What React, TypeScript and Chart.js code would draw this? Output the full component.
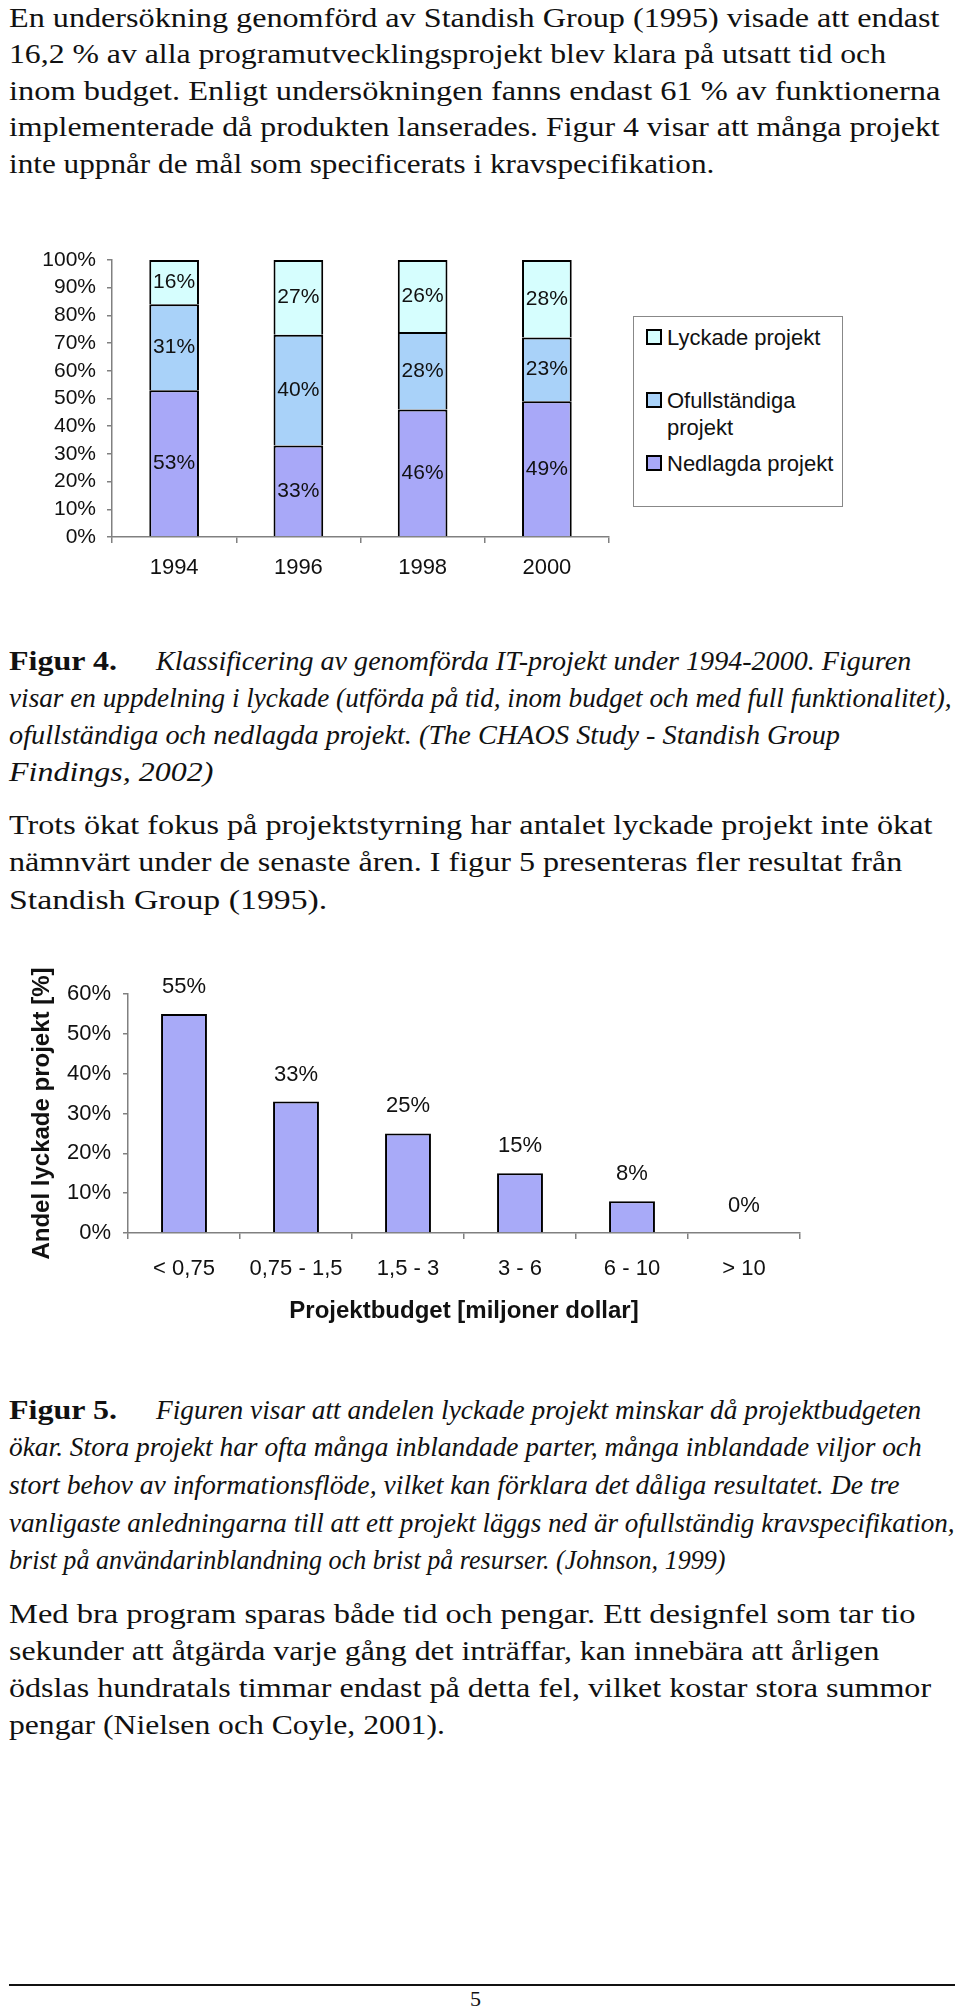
import React, { useEffect, useLayoutEffect, useRef } from "react";
import { Chart, registerables } from "chart.js";
Chart.register(...registerables);

// ---------- Figure 4 data ----------
const years = ["1994", "1996", "1998", "2000"];
const nedlagda = [53, 33, 46, 49];
const ofullstandiga = [31, 40, 28, 23];
const lyckade = [16, 27, 26, 28];
const stackSeries = [nedlagda, ofullstandiga, lyckade];
const stackLabels = ["Nedlagda projekt", "Ofullständiga projekt", "Lyckade projekt"];
const stackColors = ["#A8A8F8", "#A9D2F9", "#D6FEFE"];

// ---------- Figure 5 data ----------
const budgetCats = ["< 0,75", "0,75 - 1,5", "1,5 - 3", "3 - 6", "6 - 10", "> 10"];
const successShare = [55, 33, 25, 15, 8, 0];
const barColor2 = "#A8AAF8";
const yTitle2 = "Andel lyckade projekt [%]";
const xTitle2 = "Projektbudget [miljoner dollar]";

// ---------- Text ----------
const para1 = [
  "En undersökning genomförd av Standish Group (1995) visade att endast",
  "16,2 % av alla programutvecklingsprojekt blev klara på utsatt tid och",
  "inom budget. Enligt undersökningen fanns endast 61 % av funktionerna",
  "implementerade då produkten lanserades. Figur 4 visar att många projekt",
  "inte uppnår de mål som specificerats i kravspecifikation.",
];
const cap4Head = "Figur 4.";
const cap4 = [
  "Klassificering av genomförda IT-projekt under 1994-2000. Figuren",
  "visar en uppdelning i lyckade (utförda på tid, inom budget och med full funktionalitet),",
  "ofullständiga och nedlagda projekt. (The CHAOS Study - Standish Group",
  "Findings, 2002)",
];
const para2 = [
  "Trots ökat fokus på projektstyrning har antalet lyckade projekt inte ökat",
  "nämnvärt under de senaste åren. I figur 5 presenteras fler resultat från",
  "Standish Group (1995).",
];
const cap5Head = "Figur 5.";
const cap5 = [
  "Figuren visar att andelen lyckade projekt minskar då projektbudgeten",
  "ökar. Stora projekt har ofta många inblandade parter, många inblandade viljor och",
  "stort behov av informationsflöde, vilket kan förklara det dåliga resultatet. De tre",
  "vanligaste anledningarna till att ett projekt läggs ned är ofullständig kravspecifikation,",
  "brist på användarinblandning och brist på resurser. (Johnson, 1999)",
];
const para3 = [
  "Med bra program sparas både tid och pengar. Ett designfel som tar tio",
  "sekunder att åtgärda varje gång det inträffar, kan innebära att årligen",
  "ödslas hundratals timmar endast på detta fel, vilket kostar stora summor",
  "pengar (Nielsen och Coyle, 2001).",
];
const pageNumber = "5";

const SANS = '"Liberation Sans", Arial, sans-serif';
const SERIF = '"Liberation Serif", "Times New Roman", serif';
const TEXT_SIZE = 27;

function textStyle(x: number, y: number, italic?: boolean, bold?: boolean): React.CSSProperties {
  return {
    position: "absolute",
    left: x,
    top: y - TEXT_SIZE / 2,
    fontSize: TEXT_SIZE,
    lineHeight: `${TEXT_SIZE}px`,
    whiteSpace: "pre",
    transformOrigin: "0 0",
    fontFamily: SERIF,
    fontStyle: italic ? "italic" : "normal",
    fontWeight: bold ? "bold" : "normal",
    color: "#111",
  };
}

function onFonts(fn: () => void) {
  fn();
  const f: any = (document as any).fonts;
  if (f && f.ready) f.ready.then(fn);
}

function FitText(props: { x: number; y: number; right: number; italic?: boolean; bold?: boolean; children: string }) {
  const { x, y, right, italic, bold, children } = props;
  const ref = useRef<HTMLSpanElement>(null);
  useLayoutEffect(() => {
    onFonts(() => {
      const el = ref.current;
      if (!el) return;
      const nat = el.offsetWidth;
      if (nat > 0) el.style.transform = `scaleX(${(right - x) / nat})`;
    });
  }, [x, right, children]);
  return (
    <span ref={ref} style={textStyle(x, y, italic, bold)}>
      {children}
    </span>
  );
}

// Each line is horizontally fitted to its right edge in the reference layout.
function Paragraph(props: { lines: string[]; y0: number; gap: number; rights: number[]; italic?: boolean; firstX?: number }) {
  const { lines, y0, gap, rights, italic, firstX } = props;
  const refs = useRef<(HTMLSpanElement | null)[]>([]);
  const xOf = (i: number) => (i === 0 && firstX ? firstX : 9);
  useLayoutEffect(() => {
    onFonts(() => {
      refs.current.forEach((el, i) => {
        if (!el || el.offsetWidth === 0) return;
        el.style.transform = `scaleX(${(rights[i] - xOf(i)) / el.offsetWidth})`;
      });
    });
  }, []);
  return (
    <>
      {lines.map((t, i) => (
        <span key={i} ref={(el) => { refs.current[i] = el; }} style={textStyle(xOf(i), y0 + i * gap, italic)}>
          {t}
        </span>
      ))}
    </>
  );
}

const segmentLabelPlugin = {
  id: "segLabels",
  afterDatasetsDraw(chart: any) {
    const ctx = chart.ctx;
    ctx.save();
    ctx.font = `21px ${SANS}`;
    ctx.fillStyle = "#111";
    ctx.textAlign = "center";
    ctx.textBaseline = "middle";
    chart.data.datasets.forEach((ds: any, di: number) => {
      const meta = chart.getDatasetMeta(di);
      meta.data.forEach((el: any, i: number) => {
        ctx.fillText(`${ds.data[i]}%`, el.x, (el.y + el.base) / 2);
      });
    });
    ctx.restore();
  },
};

const topLabelPlugin = {
  id: "topLabels",
  afterDatasetsDraw(chart: any) {
    const ctx = chart.ctx;
    ctx.save();
    ctx.font = `22px ${SANS}`;
    ctx.fillStyle = "#111";
    ctx.textAlign = "center";
    ctx.textBaseline = "middle";
    const ds = chart.data.datasets[0];
    chart.getDatasetMeta(0).data.forEach((el: any, i: number) => {
      ctx.fillText(`${ds.data[i]}%`, el.x, el.y - 27);
    });
    ctx.restore();
  },
};

function StackedChart() {
  const ref = useRef<HTMLCanvasElement>(null);
  useEffect(() => {
    const chart = new Chart(ref.current!, {
      type: "bar",
      data: {
        labels: years,
        datasets: stackSeries.map((d, i) => ({
          label: stackLabels[i],
          data: d,
          backgroundColor: stackColors[i],
          borderColor: "#000",
          borderWidth: 2,
          barPercentage: 0.4,
          categoryPercentage: 1,
        })),
      },
      options: {
        animation: false,
        responsive: false,
        devicePixelRatio: 1,
        layout: { padding: { left: 0, top: 30, right: 31, bottom: 13 } },
        plugins: { legend: { display: false }, tooltip: { enabled: false } },
        scales: {
          x: {
            stacked: true,
            grid: { offset: true, drawOnChartArea: false, drawTicks: true, tickLength: 6, tickColor: "#808080", lineWidth: 1.5 },
            border: { color: "#808080", width: 1.5 },
            ticks: { padding: 12, color: "#111", font: { family: SANS, size: 22 } },
            afterFit: (s: any) => { s.height = 60; },
          },
          y: {
            stacked: true,
            min: 0,
            max: 100,
            grid: { drawOnChartArea: false, drawTicks: true, tickLength: 5, tickColor: "#808080", lineWidth: 1.5 },
            border: { color: "#808080", width: 1.5 },
            ticks: { stepSize: 10, autoSkip: false, padding: 11, color: "#111", font: { family: SANS, size: 21 }, callback: (v: any) => `${v}%` },
            afterFit: (s: any) => { s.width = 112; },
          },
        },
      },
      plugins: [segmentLabelPlugin],
    } as any);
    return () => chart.destroy();
  }, []);
  return <canvas ref={ref} width={640} height={380} style={{ position: "absolute", left: 0, top: 230, width: 640, height: 380 }} />;
}

function StackLegend() {
  const order = [2, 1, 0];
  const tops = [323, 386, 449];
  return (
    <div style={{ position: "absolute", left: 633, top: 316, width: 208, height: 189, border: "1.5px solid #888", background: "#fff" }}>
      {order.map((idx, k) => (
        <div key={idx} style={{ position: "absolute", left: 0, top: tops[k] - 316, width: 208 }}>
          <div style={{ position: "absolute", left: 12, top: 5, width: 12, height: 12, border: "2px solid #000", background: stackColors[idx] }} />
          <div style={{ position: "absolute", left: 33, top: 0, width: 172, fontFamily: SANS, fontSize: 22, lineHeight: "27px", color: "#111" }}>
            {stackLabels[idx]}
          </div>
        </div>
      ))}
    </div>
  );
}

function BudgetChart() {
  const ref = useRef<HTMLCanvasElement>(null);
  useEffect(() => {
    const chart = new Chart(ref.current!, {
      type: "bar",
      data: {
        labels: budgetCats,
        datasets: [
          {
            label: yTitle2,
            data: successShare,
            backgroundColor: barColor2,
            borderColor: "#000",
            borderWidth: 2,
            barPercentage: 0.41,
            categoryPercentage: 1,
          },
        ],
      },
      options: {
        animation: false,
        responsive: false,
        devicePixelRatio: 1,
        layout: { padding: { left: 0, top: 44, right: 40, bottom: 24 } },
        plugins: { legend: { display: false }, tooltip: { enabled: false } },
        scales: {
          x: {
            grid: { offset: true, drawOnChartArea: false, drawTicks: true, tickLength: 6, tickColor: "#808080", lineWidth: 1.5 },
            border: { color: "#808080", width: 1.5 },
            ticks: { padding: 17, color: "#111", font: { family: SANS, size: 22 } },
            title: { display: true, text: xTitle2, color: "#111", font: { family: SANS, size: 24, weight: "bold" }, padding: { top: 0, bottom: 0 } },
            afterFit: (s: any) => { s.height = 93; },
          },
          y: {
            min: 0,
            max: 60,
            grid: { drawOnChartArea: false, drawTicks: true, tickLength: 5, tickColor: "#808080", lineWidth: 1.5 },
            border: { color: "#808080", width: 1.5 },
            ticks: { stepSize: 10, autoSkip: false, padding: 12, color: "#111", font: { family: SANS, size: 22 }, callback: (v: any) => `${v}%` },
            title: { display: true, text: yTitle2, color: "#111", font: { family: SANS, size: 24, weight: "bold" }, padding: { top: 28, bottom: 0 } },
            afterFit: (s: any) => { s.width = 128; },
          },
        },
      },
      plugins: [topLabelPlugin],
    } as any);
    return () => chart.destroy();
  }, []);
  return <canvas ref={ref} width={840} height={400} style={{ position: "absolute", left: 0, top: 950, width: 840, height: 400 }} />;
}

export default function App() {
  return (
    <div style={{ position: "absolute", left: 0, top: 0, width: 960, height: 2010, background: "#fff", overflow: "hidden" }}>
      <Paragraph lines={para1} y0={18} gap={36.6} rights={[940, 886, 940, 940, 714]} />

      <StackedChart />
      <StackLegend />

      <FitText x={9} y={661} right={117} bold>{cap4Head}</FitText>
      <Paragraph lines={cap4} y0={661} gap={37.3} rights={[911, 952, 840, 214]} italic firstX={156} />

      <Paragraph lines={para2} y0={825} gap={37.5} rights={[932, 902, 327]} />

      <BudgetChart />

      <FitText x={9} y={1410} right={117} bold>{cap5Head}</FitText>
      <Paragraph lines={cap5} y0={1410} gap={37.7} rights={[921, 922, 900, 955, 726]} italic firstX={156} />

      <Paragraph lines={para3} y0={1614} gap={37} rights={[916, 879, 931, 445]} />

      <div style={{ position: "absolute", left: 9, top: 1984, width: 946, height: 2, background: "#111" }} />
      <span style={{ position: "absolute", left: 470, top: 1988, fontFamily: SERIF, fontSize: 22, lineHeight: "22px", color: "#111" }}>{pageNumber}</span>
    </div>
  );
}
